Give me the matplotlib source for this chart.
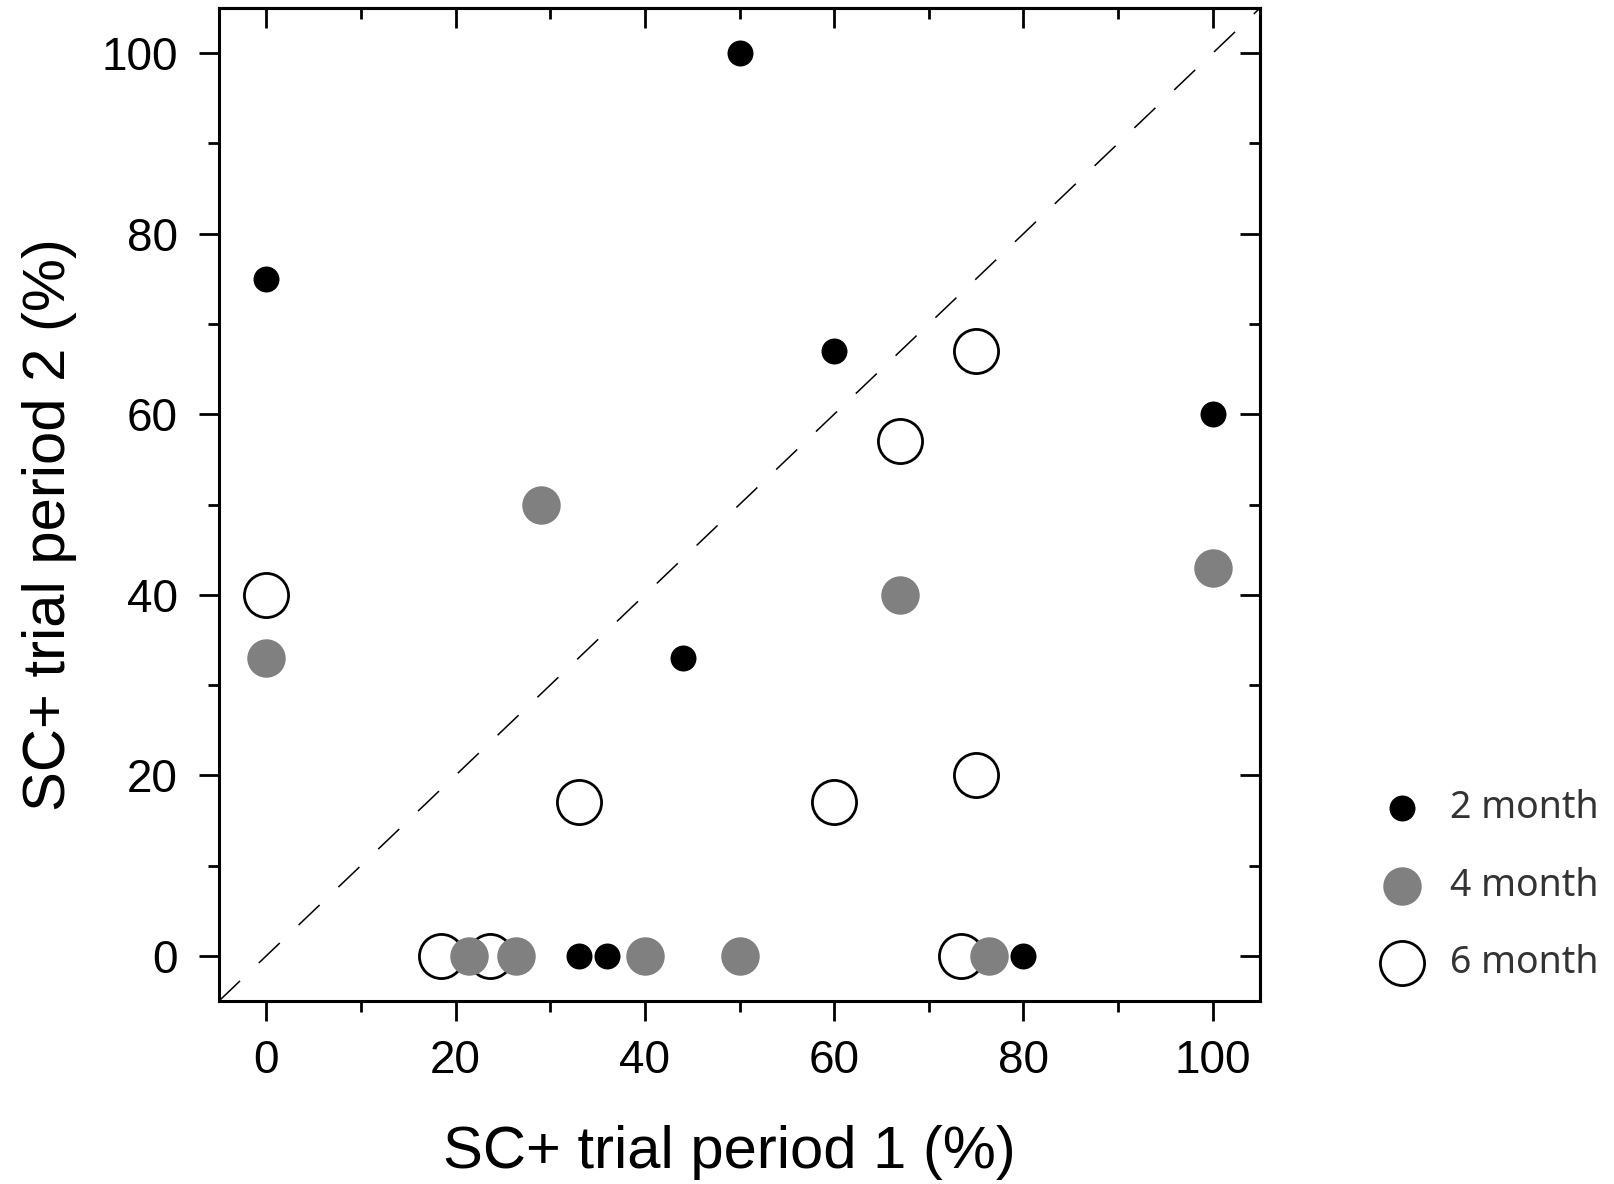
import matplotlib
matplotlib.use('Agg')
import matplotlib.pyplot as plt
from matplotlib.ticker import MultipleLocator

# --- Data ---
m2_x = [50, 0, 60, 100, 44, 33, 36, 80]
m2_y = [100, 75, 67, 60, 33, 0, 0, 0]

m4_x = [29, 0, 67, 100, 21.4, 26.4, 40, 50, 76.4]
m4_y = [50, 33, 40, 43, 0, 0, 0, 0, 0]

m6_x = [75, 67, 0, 33, 60, 75, 18.5, 23.6, 73.4]
m6_y = [67, 57, 40, 17, 17, 20, 0, 0, 0]

labels = ['2 month', '4 month', '6 month']
ticks = [0, 20, 40, 60, 80, 100]

plt.rcParams['font.family'] = ['Liberation Sans', 'DejaVu Sans']

fig = plt.figure(figsize=(16.15, 11.84), dpi=100)
ax = fig.add_axes([0.1356, 0.1546, 0.6446, 0.8386])

# identity line
ax.plot([-5, 105], [-5, 105], color='black', lw=1.1, dashes=(19, 17), zorder=1)

h6 = ax.scatter(m6_x, m6_y, s=1010, facecolors='white', edgecolors='black',
                linewidths=2.0, zorder=2, label=labels[2])
h4 = ax.scatter(m4_x, m4_y, s=767, color='#808080', linewidths=0, zorder=3, label=labels[1])
h2 = ax.scatter(m2_x, m2_y, s=350, color='black', linewidths=0, zorder=4, label=labels[0])

ax.set_xlim(-5, 105)
ax.set_ylim(-5, 105)
ax.set_xticks(ticks)
ax.set_yticks(ticks)
ax.xaxis.set_minor_locator(MultipleLocator(10))
ax.yaxis.set_minor_locator(MultipleLocator(10))

for sp in ax.spines.values():
    sp.set_linewidth(2.2)

ax.tick_params(axis='both', which='major', direction='out', length=14.5, width=2.0, labelsize=33)
ax.tick_params(axis='both', which='minor', direction='out', length=8, width=2.0)
ax.tick_params(axis='x', which='major', pad=13)
ax.tick_params(axis='y', which='major', pad=15)

# inward ticks on top and right
secx = ax.secondary_xaxis('top')
secx.set_xticks(ticks)
secx.xaxis.set_minor_locator(MultipleLocator(10))
secx.tick_params(which='major', direction='in', length=14.5, width=2.0, labeltop=False)
secx.tick_params(which='minor', direction='in', length=8, width=2.0)
secy = ax.secondary_yaxis('right')
secy.set_yticks(ticks)
secy.yaxis.set_minor_locator(MultipleLocator(10))
secy.tick_params(which='major', direction='in', length=14.5, width=2.0, labelright=False)
secy.tick_params(which='minor', direction='in', length=8, width=2.0)
for s in (secx, secy):
    for sp in s.spines.values():
        sp.set_linewidth(2.2)

ax.set_xlabel('SC+ trial period 1 (%)', fontsize=43)
ax.set_ylabel('SC+ trial period 2 (%)', fontsize=43)
ax.xaxis.set_label_coords(0.49, -0.125)
ax.yaxis.set_label_coords(-0.136, 0.48)

leg = ax.legend(handles=[h2, h4, h6], labels=labels, loc='center left',
                bbox_to_anchor=(0.833, 0.252), bbox_transform=fig.transFigure,
                frameon=False, prop={'family': 'Noto Sans', 'size': 27},
                labelspacing=1.05, handletextpad=0.3, borderpad=0, scatterpoints=1)
for t in leg.get_texts():
    t.set_color('#333333')

plt.savefig('out.png', dpi=100)
